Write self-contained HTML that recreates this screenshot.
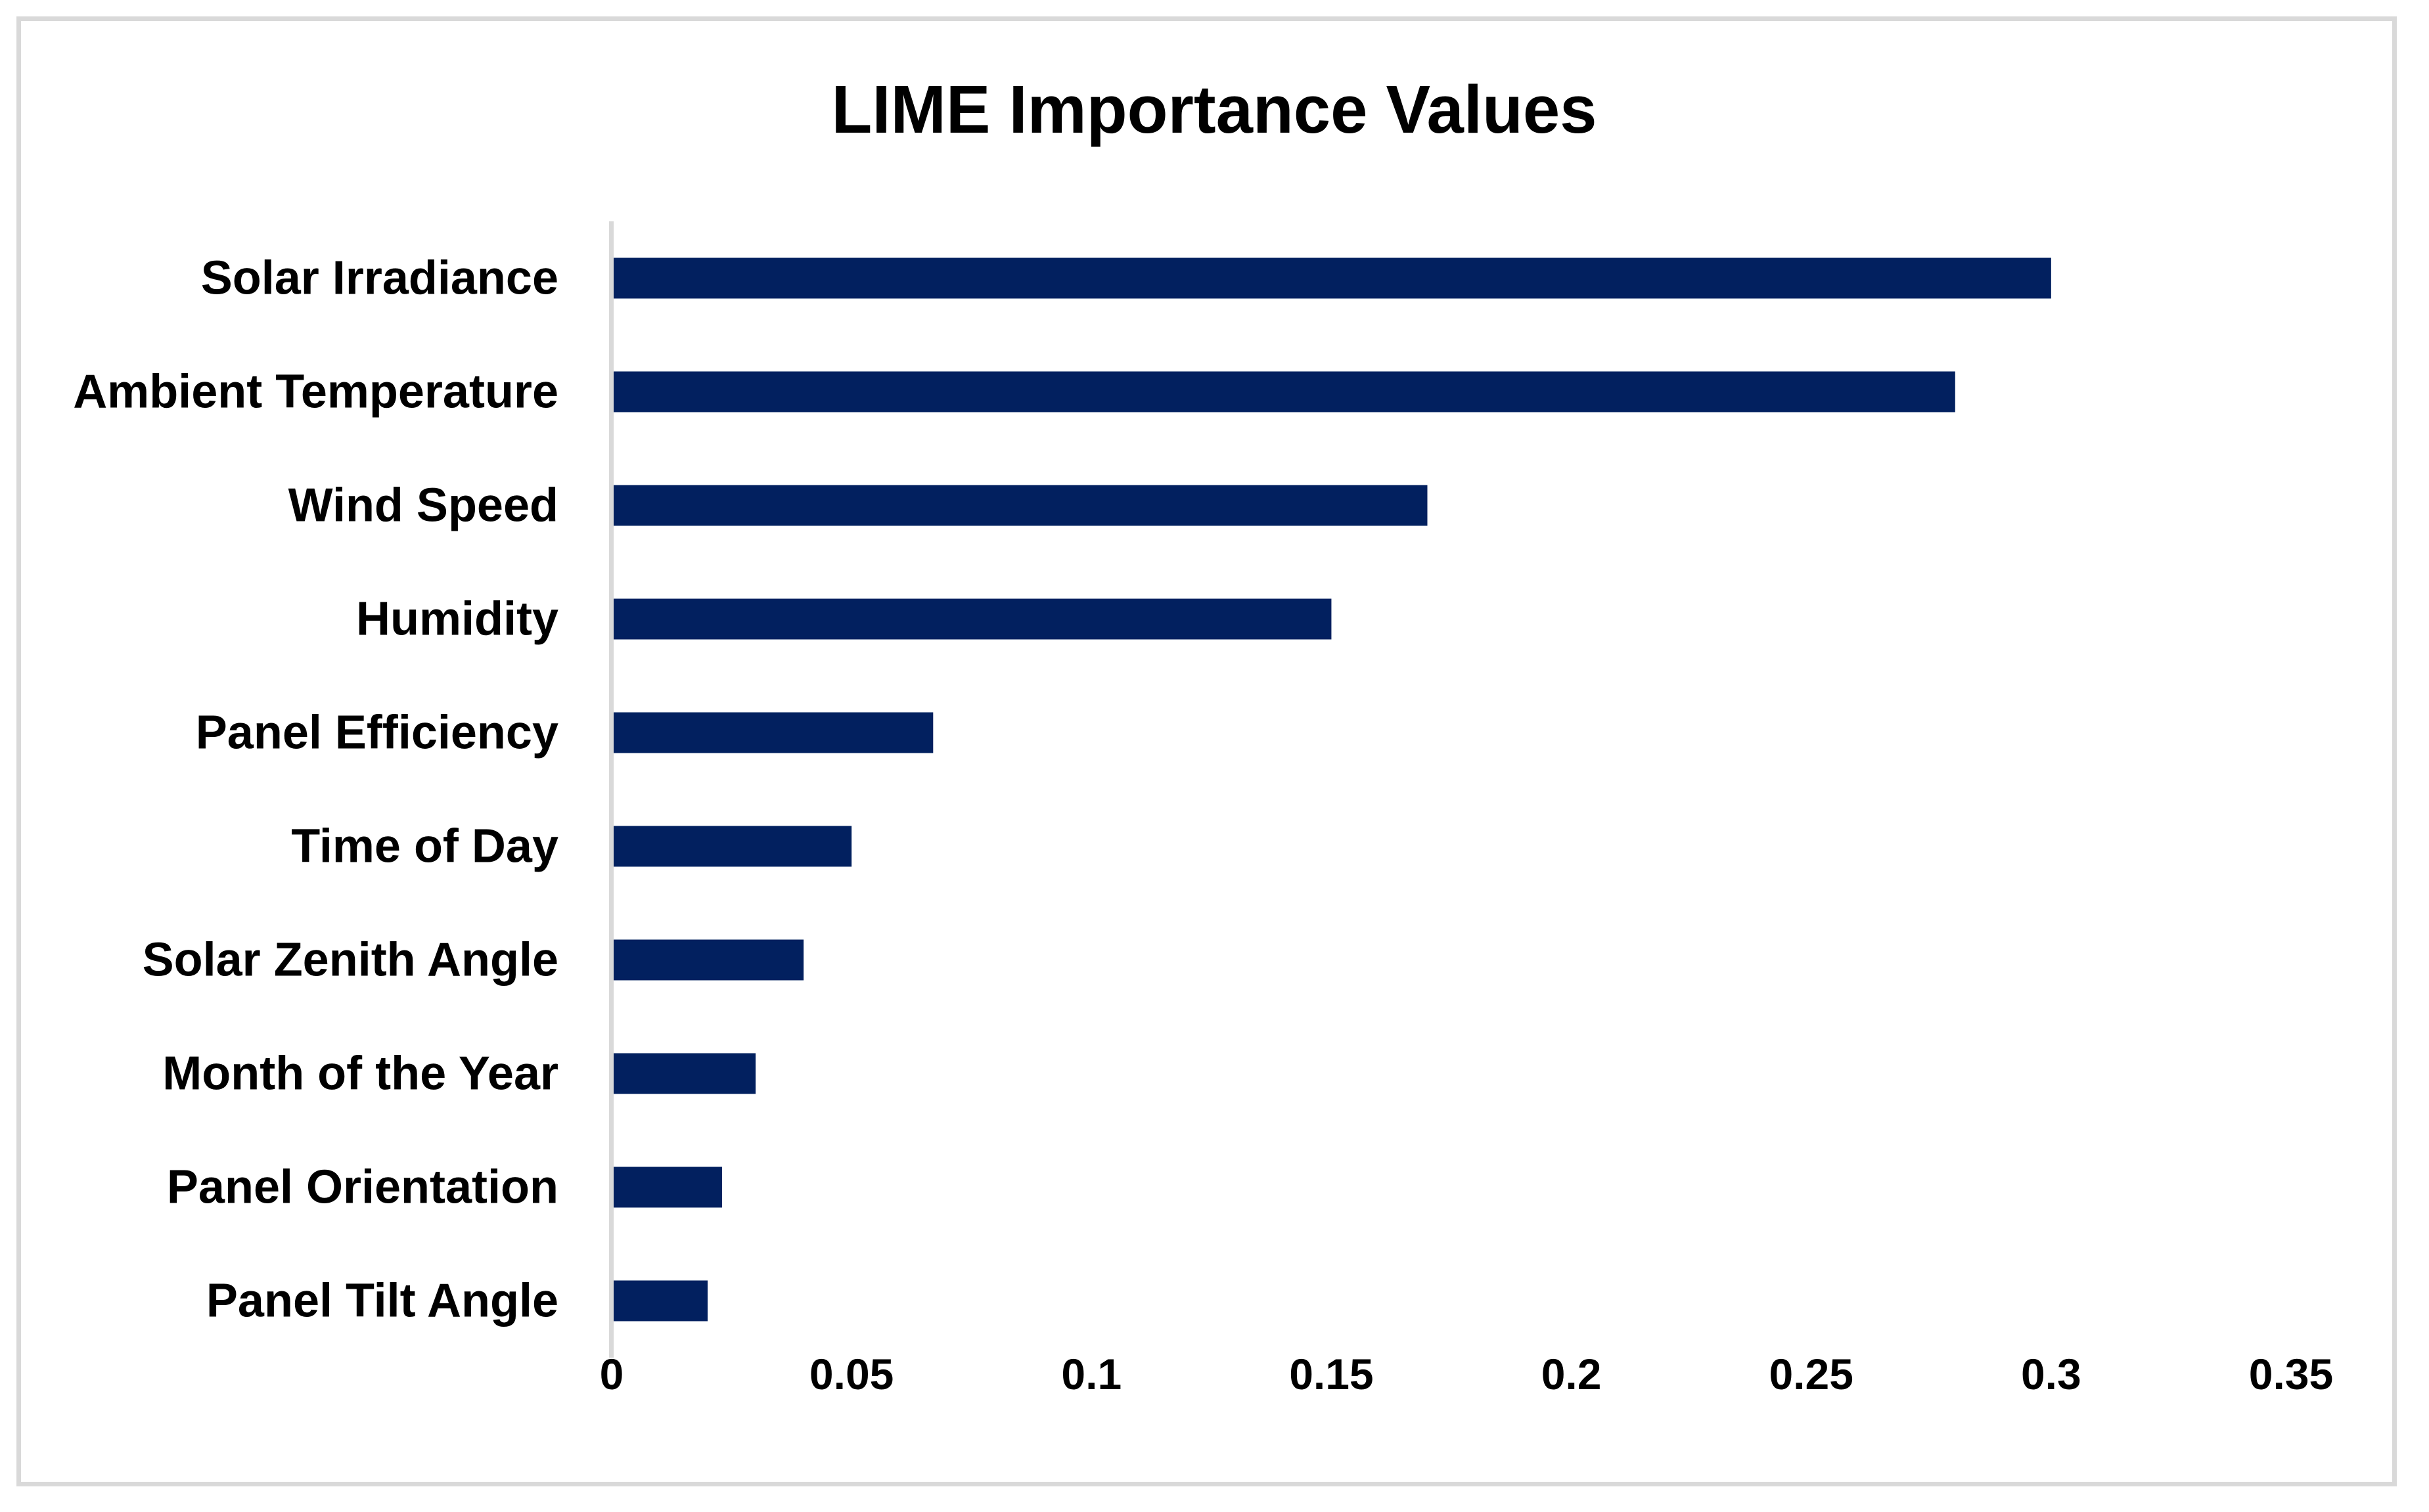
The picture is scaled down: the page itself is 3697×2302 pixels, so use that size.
<!DOCTYPE html>
<html><head><meta charset="utf-8"><style>
html,body{margin:0;padding:0;background:#fff;}
svg{display:block;}
text{font-family:"Liberation Sans",sans-serif;font-weight:bold;fill:#000;}
</style></head><body>
<svg id="chart" width="3697" height="2302" viewBox="0 0 3697 2302" xmlns="http://www.w3.org/2000/svg">
<rect x="28.5" y="28.5" width="3616" height="2231" fill="#fff" stroke="#d9d9d9" stroke-width="7"/>
<text x="1848" y="202" font-size="103" text-anchor="middle" textLength="1165" lengthAdjust="spacingAndGlyphs">LIME Importance Values</text>
<g id="bars"></g>
<g id="ylabels"></g>
<g id="xticks"></g>
<rect x="927" y="337" width="7" height="1730" fill="#d9d9d9"/>
</svg>
<script>
const categories = ["Solar Irradiance","Ambient Temperature","Wind Speed","Humidity","Panel Efficiency","Time of Day","Solar Zenith Angle","Month of the Year","Panel Orientation","Panel Tilt Angle"];
const values = [0.30,0.28,0.17,0.15,0.067,0.05,0.04,0.03,0.023,0.02];
const xTicks = [0,0.05,0.1,0.15,0.2,0.25,0.3,0.35];
const xTickLabels = ["0","0.05","0.1","0.15","0.2","0.25","0.3","0.35"];

const NS = "http://www.w3.org/2000/svg";
const xMax = 0.35;
const xScale = v => 931 + (v / xMax) * (3487 - 931);
const top0 = 337, band = 173;
const yCenter = i => top0 + band * i + band / 2;
const barH = 62;

const gb = document.getElementById('bars');
const gl = document.getElementById('ylabels');
const gx = document.getElementById('xticks');

categories.forEach((c, i) => {
  const r = document.createElementNS(NS, 'rect');
  
  
  r.setAttribute('x', 934);
  r.setAttribute('y', yCenter(i) - barH / 2);
  r.setAttribute('width', Math.max(0, xScale(values[i]) - 934));
  r.setAttribute('height', barH);
  r.setAttribute('fill', '#02205f');
  gb.appendChild(r);

  const t = document.createElementNS(NS, 'text');
  
  
  t.setAttribute('x', 850);
  t.setAttribute('y', yCenter(i) + 24);
  t.setAttribute('font-size', '72');
  t.setAttribute('text-anchor', 'end');
  t.textContent = c;
  gl.appendChild(t);
});

xTicks.forEach((v, i) => {
  const t = document.createElementNS(NS, 'text');
  
  
  t.setAttribute('x', xScale(v));
  t.setAttribute('y', 2115);
  t.setAttribute('font-size', '66');
  t.setAttribute('text-anchor', 'middle');
  t.textContent = xTickLabels[i];
  gx.appendChild(t);
});
</script>
</body></html>
